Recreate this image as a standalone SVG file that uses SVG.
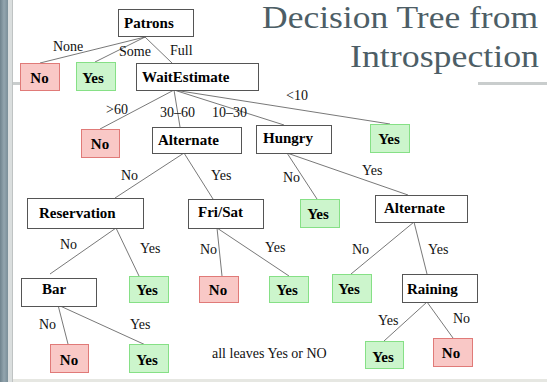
<svg xmlns="http://www.w3.org/2000/svg" width="547" height="382" viewBox="0 0 547 382">
<defs>
<linearGradient id="side" x1="0" x2="1" y1="0" y2="0">
<stop offset="0" stop-color="#6f838d"/>
<stop offset="0.5" stop-color="#93a5ae"/>
<stop offset="1" stop-color="#7b8f99"/>
</linearGradient>
</defs>
<style>
.box{fill:#fff;stroke:#555;stroke-width:1}
.no{fill:#f9c8c6;stroke:#e07a78;stroke-width:1}
.yes{fill:#ccf5cc;stroke:#86e086;stroke-width:1}
.lbl{font-family:"Liberation Serif",serif;font-weight:bold;font-size:15px;fill:#000}
.leaf{font-family:"Liberation Serif",serif;font-weight:bold;font-size:15px;fill:#000;text-anchor:middle}
.edge{font-family:"Liberation Serif",serif;font-size:14px;fill:#111}
.title{font-family:"Liberation Serif",serif;font-size:32px;fill:#4d5e66;text-anchor:end}
#connectors line{stroke:#555;stroke-width:0.8}
</style>
<rect x="0" y="0" width="547" height="382" fill="#fff"/>
<rect x="0" y="0" width="8" height="382" fill="url(#side)"/>
<rect x="8" y="0" width="4" height="382" fill="#dadede"/>
<rect x="12" y="0" width="1" height="382" fill="#bfc3c3"/>
<rect x="13" y="379" width="534" height="3" fill="#e6e7e2"/>
<rect x="13" y="82" width="7" height="3" fill="#c9cdcd"/>
<rect x="478" y="82" width="69" height="3" fill="#c9cdcd"/>

<g id="title">
<text class="title" x="538" y="28" textLength="276" lengthAdjust="spacingAndGlyphs">Decision Tree from</text>
<text class="title" x="539" y="67" textLength="189" lengthAdjust="spacingAndGlyphs">Introspection</text>
</g>

<g id="connectors">
<line x1="145" y1="37" x2="40" y2="63"/>
<line x1="145" y1="37" x2="95" y2="62"/>
<line x1="145" y1="37" x2="172" y2="63"/>
<line x1="174" y1="90" x2="100" y2="129"/>
<line x1="174" y1="90" x2="180" y2="127"/>
<line x1="174" y1="90" x2="284" y2="125"/>
<line x1="174" y1="90" x2="390" y2="124"/>
<line x1="184" y1="153" x2="115" y2="198"/>
<line x1="184" y1="153" x2="213" y2="199"/>
<line x1="287" y1="153" x2="317" y2="199"/>
<line x1="287" y1="153" x2="408" y2="195"/>
<line x1="116" y1="228" x2="50" y2="274"/>
<line x1="116" y1="228" x2="139" y2="276"/>
<line x1="217" y1="228" x2="222" y2="276"/>
<line x1="217" y1="228" x2="289" y2="276"/>
<line x1="414" y1="222" x2="351" y2="274"/>
<line x1="414" y1="222" x2="427" y2="274"/>
<line x1="58" y1="305" x2="68" y2="344"/>
<line x1="58" y1="305" x2="150" y2="347"/>
<line x1="427" y1="302" x2="384" y2="341"/>
<line x1="427" y1="302" x2="453" y2="338"/>
</g>

<g id="edge-labels">
<text class="edge" x="53" y="51">None</text>
<text class="edge" x="119" y="56">Some</text>
<text class="edge" x="170" y="55">Full</text>
<text class="edge" x="106" y="114">&gt;60</text>
<text class="edge" x="160" y="117">30–60</text>
<text class="edge" x="212" y="117">10–30</text>
<text class="edge" x="286" y="100">&lt;10</text>
<text class="edge" x="121" y="180">No</text>
<text class="edge" x="211" y="180">Yes</text>
<text class="edge" x="283" y="182">No</text>
<text class="edge" x="362" y="175">Yes</text>
<text class="edge" x="60" y="249">No</text>
<text class="edge" x="140" y="253">Yes</text>
<text class="edge" x="200" y="254">No</text>
<text class="edge" x="265" y="252">Yes</text>
<text class="edge" x="352" y="254">No</text>
<text class="edge" x="428" y="254">Yes</text>
<text class="edge" x="39" y="329">No</text>
<text class="edge" x="130" y="329">Yes</text>
<text class="edge" x="378" y="325">Yes</text>
<text class="edge" x="453" y="323">No</text>
</g>

<g id="patrons"><rect class="box" x="118.5" y="9.5" width="75" height="27"/><text class="lbl" x="124" y="28">Patrons</text></g>
<g id="leaf-none"><rect class="no" x="20.5" y="63.5" width="39" height="27"/><text class="leaf" x="39.5" y="83">No</text></g>
<g id="leaf-some"><rect class="yes" x="76.5" y="62.5" width="39" height="28"/><text class="leaf" x="93" y="83">Yes</text></g>
<g id="waitestimate"><rect class="box" x="136.5" y="63.5" width="122" height="27"/><text class="lbl" x="142" y="82">WaitEstimate</text></g>
<g id="leaf-gt60"><rect class="no" x="81.5" y="129.5" width="38" height="28"/><text class="leaf" x="100" y="149">No</text></g>
<g id="alternate1"><rect class="box" x="152.5" y="127.5" width="89" height="26"/><text class="lbl" x="158" y="145">Alternate</text></g>
<g id="hungry"><rect class="box" x="256.5" y="125.5" width="75" height="28"/><text class="lbl" x="263" y="143">Hungry</text></g>
<g id="leaf-lt10"><rect class="yes" x="370.5" y="124.5" width="39" height="28"/><text class="leaf" x="389" y="144">Yes</text></g>
<g id="reservation"><rect class="box" x="27.5" y="198.5" width="116" height="30"/><text class="lbl" x="39" y="218">Reservation</text></g>
<g id="frisat"><rect class="box" x="188.5" y="199.5" width="75" height="29"/><text class="lbl" x="198" y="217">Fri/Sat</text></g>
<g id="leaf-hungry-no"><rect class="yes" x="300.5" y="199.5" width="39" height="28"/><text class="leaf" x="318" y="219">Yes</text></g>
<g id="alternate2"><rect class="box" x="375.5" y="195.5" width="92" height="27"/><text class="lbl" x="384" y="213">Alternate</text></g>
<g id="bar"><rect class="box" x="21.5" y="278.5" width="75" height="28"/><text class="lbl" x="42" y="294">Bar</text></g>
<g id="leaf-res-yes"><rect class="yes" x="129.5" y="276.5" width="39" height="26"/><text class="leaf" x="147" y="295">Yes</text></g>
<g id="leaf-fri-no"><rect class="no" x="199.5" y="276.5" width="39" height="26"/><text class="leaf" x="218" y="295">No</text></g>
<g id="leaf-fri-yes"><rect class="yes" x="269.5" y="276.5" width="39" height="26"/><text class="leaf" x="287" y="295">Yes</text></g>
<g id="leaf-alt2-no"><rect class="yes" x="332.5" y="274.5" width="39" height="28"/><text class="leaf" x="349" y="294">Yes</text></g>
<g id="raining"><rect class="box" x="402.5" y="274.5" width="75" height="28"/><text class="lbl" x="407" y="294">Raining</text></g>
<g id="leaf-bar-no"><rect class="no" x="50.5" y="344.5" width="38" height="28"/><text class="leaf" x="69" y="365">No</text></g>
<g id="leaf-bar-yes"><rect class="yes" x="129.5" y="344.5" width="39" height="28"/><text class="leaf" x="147" y="365">Yes</text></g>
<g id="leaf-rain-yes"><rect class="yes" x="365.5" y="341.5" width="38" height="27"/><text class="leaf" x="383" y="362">Yes</text></g>
<g id="leaf-rain-no"><rect class="no" x="433.5" y="338.5" width="39" height="28"/><text class="leaf" x="451" y="358">No</text></g>

<text class="edge" x="212" y="358">all leaves Yes or NO</text>
</svg>
